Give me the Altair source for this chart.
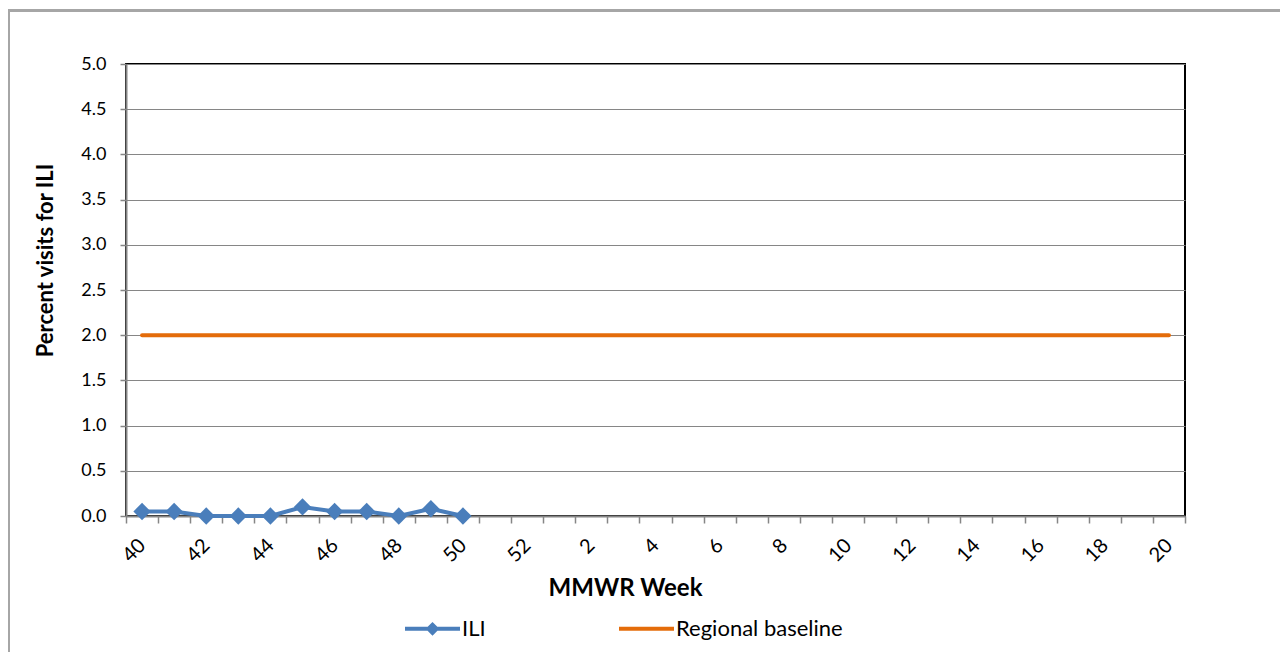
import altair as alt
import pandas as pd

# ---- data ----
weeks = [str(w) for w in range(40, 53)] + [str(w) for w in range(1, 21)]
ili_weeks = [str(w) for w in range(40, 51)]
ili_values = [0.05, 0.05, 0.0, 0.0, 0.0, 0.1, 0.05, 0.05, 0.0, 0.08, 0.0]
baseline_value = 2.0
series_names = ["ILI", "Regional baseline"]
series_colors = ["#4A7EBB", "#E46C0A"]
y_ticks = [0, 0.5, 1, 1.5, 2, 2.5, 3, 3.5, 4, 4.5, 5]

ili_df = pd.DataFrame({"week": ili_weeks, "value": ili_values, "series": "ILI"})
base_df = pd.DataFrame({"week": weeks, "value": [baseline_value] * len(weeks),
                        "series": "Regional baseline"})
all_df = pd.concat([ili_df, base_df], ignore_index=True)

FONT = "Lato"
W, H = 1059, 452

x_enc = alt.X("week:N", sort=weeks,
              scale=alt.Scale(domain=weeks, paddingInner=0, paddingOuter=0),
              axis=alt.Axis(title="MMWR Week", tickBand="extent",
                            labelExpr="toNumber(datum.value) % 2 == 0 ? datum.label : ''",
                            labelAngle=-45, labelAlign="right", labelBaseline="middle",
                            labelPadding=19, labelFontSize=20, labelColor="#000000",
                            labelFont=FONT, tickSize=7, tickColor="#868686", tickWidth=1.5,
                            domainColor="#868686", domainWidth=2,
                            titleFontSize=24, titleFontWeight="bold", titleFont=FONT,
                            titleColor="#000000", titleX=499, titleY=72,
                            titleAlign="center", titleBaseline="middle",
                            grid=False))
y_enc = alt.Y("value:Q",
              scale=alt.Scale(domain=[0, 5], nice=False, zero=True),
              axis=alt.Axis(title="Percent visits for ILI", values=y_ticks, format=".1f",
                            labelFontSize=18, labelColor="#000000", labelFont=FONT,
                            labelPadding=14,
                            tickSize=6, tickColor="#868686", tickWidth=1.5,
                            domainColor="#868686", domainWidth=2,
                            grid=True, gridColor="#868686", gridWidth=1,
                            titleFontSize=22, titleFontWeight="bold", titleFont=FONT,
                            titleColor="#000000", titleX=-81, titleY=196,
                            titleAngle=-90, titleAlign="center", titleBaseline="middle"))

frame = alt.Chart(pd.DataFrame({"a": [0]})).mark_rect(
    filled=False, stroke="#A6A6A6", strokeWidth=3, clip=False
).encode(x=alt.value(-117.5), x2=alt.value(1180), y=alt.value(-53.5), y2=alt.value(620))

base_line = alt.Chart(base_df).mark_line(
    color=series_colors[1], strokeWidth=4, strokeCap="round"
).encode(x=x_enc, y=y_enc)

ili_line = alt.Chart(ili_df).mark_line(
    color=series_colors[0], strokeWidth=4
).encode(x=x_enc, y=y_enc)

ili_pts = alt.Chart(ili_df).mark_point(
    shape="diamond", filled=True, size=300, color=series_colors[0], opacity=1
).encode(x=x_enc, y=y_enc)

p_ili = "M-1,-0.073H1V0.073H-1Z M0,-0.25L0.25,0L0,0.25L-0.25,0Z"
p_base = "M-1,-0.073H1V0.073H-1Z"
legend = alt.Legend(title=None, orient="none", legendX=279, legendY=537,
                    direction="horizontal", symbolSize=3025, symbolOpacity=1,
                    symbolStrokeWidth=0, labelFontSize=22, labelFont=FONT,
                    labelColor="#000000", labelOffset=2, columnPadding=133,
                    labelLimit=400)
carrier = alt.Chart(all_df).mark_point(filled=True, opacity=0).encode(
    x=x_enc, y=y_enc,
    color=alt.Color("series:N", scale=alt.Scale(domain=series_names, range=series_colors),
                    legend=legend),
    shape=alt.Shape("series:N", scale=alt.Scale(domain=series_names, range=[p_ili, p_base]),
                    legend=legend),
)

chart = alt.layer(frame, base_line, ili_line, ili_pts, carrier).properties(
    width=W, height=H,
    autosize=alt.AutoSizeParams(type="none"),
    padding={"left": 118, "top": 56, "right": 95, "bottom": 136},
    background="white",
).configure_view(stroke="#000000", strokeWidth=2)

chart.save("out.html", embed_options={"renderer": "svg", "actions": False})
